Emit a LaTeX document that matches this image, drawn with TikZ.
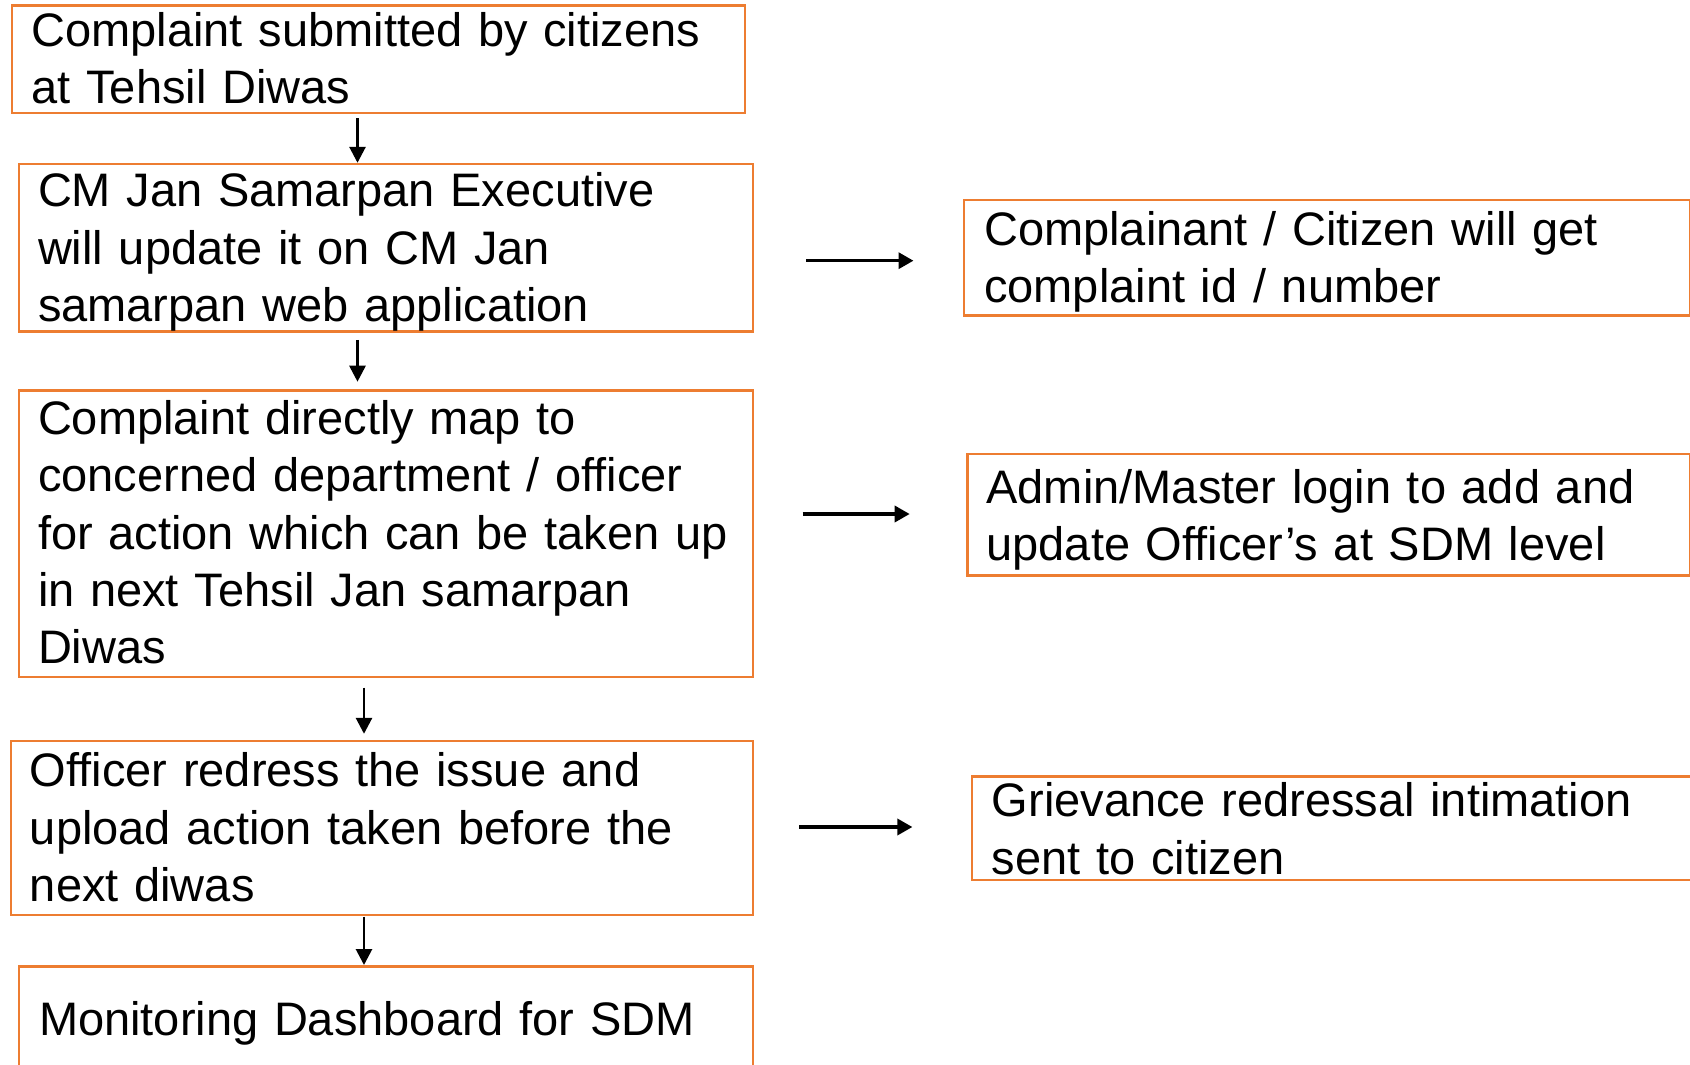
\documentclass[tikz,border=0pt]{standalone}
\usepackage{fontspec}
\setmainfont{Liberation Sans}
\usetikzlibrary{positioning}
\usetikzlibrary{arrows.meta}
\definecolor{boxorange}{HTML}{ED7D31}
\tikzset{every node/.style={align=left},
         box/.style={ % orange frame of each step
           draw=boxorange, line width=2.5pt,
           anchor=north west, inner sep=0pt},
         txt/.style={ % text inside a frame, placed by its first baseline
           anchor=base west, inner sep=0pt, text width=720pt,
           font=\fontsize{47}{57.3}\selectfont},
         down/.style={draw, line width=2.8pt, -{Triangle[length=16pt,width=16pt]}},
         side/.style={draw, line width=3.4pt, -{Triangle[length=15pt,width=16pt]}}}

\begin{document}
\begin{tikzpicture}[x=1pt, y=-1pt]
  \useasboundingbox (0,0) rectangle (1690,1065);

  % left column
  \node [box, minimum width=733pt, minimum height=107.8pt] (nsubmit) at (10.8,4.1) {};
  \node [below right=42.4pt and 20.5pt of nsubmit.north west, txt] (tsubmit) {
    Complaint submitted by citizens\\
    at Tehsil Diwas};

  \node [box, minimum width=734pt, minimum height=167.5pt] (nupdate) at (17.8,162.8) {};
  \node [below right=44pt and 20pt of nupdate.north west, txt] (tupdate) {
    CM Jan Samarpan Executive\\
    will update it on CM Jan\\
    samarpan web application};

  \node [box, minimum width=734pt, minimum height=286.3pt] (nmap) at (17.8,389.2) {};
  \node [below right=45.4pt and 20pt of nmap.north west, txt] (tmap) {
    Complaint directly map to\\
    concerned department / officer\\
    for action which can be taken up\\
    in next Tehsil Jan samarpan\\
    Diwas};

  \node [box, minimum width=742pt, minimum height=173.8pt] (nredress) at (9.7,739.8) {};
  \node [below right=47pt and 20pt of nredress.north west, txt] (tredress) {
    Officer redress the issue and\\
    upload action taken before the\\
    next diwas};

  \node [box, minimum width=734pt, minimum height=130pt] (nmonitor) at (17.8,965) {};
  \node [below right=70pt and 21pt of nmonitor.north west, txt] (tmonitor) {
    Monitoring Dashboard for SDM};

  % right column
  \node [box, minimum width=726pt, minimum height=115.8pt] (nid) at (962.5,198.6) {};
  \node [below right=46.5pt and 21.5pt of nid.north west, txt] (tid) {
    Complainant / Citizen will get\\
    complaint id / number};

  \node [box, minimum width=722.7pt, minimum height=121.5pt] (nadmin) at (966.3,452.6) {};
  \node [below right=51pt and 20pt of nadmin.north west, txt] (tadmin) {
    Admin/Master login to add and\\
    update Officer’s at SDM level};

  \node [box, minimum width=740pt, minimum height=103.6pt] (nintimate) at (970.6,775.2) {};
  \node [below right=41.5pt and 21pt of nintimate.north west, txt] (tintimate) {
    Grievance redressal intimation\\
    sent to citizen};

  % flow down
  \draw [down, shorten <=4pt] (nsubmit.south -| 357.5,0) -- (nupdate.north -| 357.5,0);
  \draw [down, shorten <=7pt, shorten >=7.5pt] (nupdate.south -| 357.5,0) -- (nmap.north -| 357.5,0);
  \draw [down, shorten <=9.5pt, shorten >=6pt] (nmap.south -| 364,0) -- (nredress.north -| 364,0);
  \draw [down, shorten <=0.5pt] (nredress.south -| 364,0) -- (nmonitor.north -| 364,0);

  % side outcomes
  \draw [side, shorten <=52pt, shorten >=49pt] (nupdate.east |- 0,260.7) -- (nid.west |- 0,260.7);
  \draw [side, shorten <=48.2pt, shorten >=56.6pt] (nmap.east |- 0,514) -- (nadmin.west |- 0,514);
  \draw [side, shorten <=44.8pt, shorten >=58.2pt] (nredress.east |- 0,827) -- (nintimate.west |- 0,827);
\end{tikzpicture}
\end{document}
